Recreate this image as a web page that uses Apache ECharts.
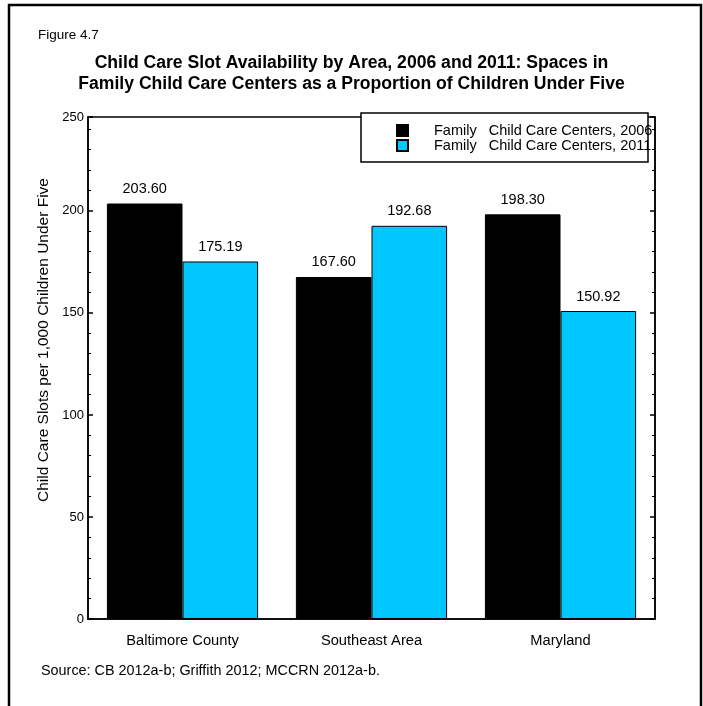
<!DOCTYPE html>
<html>
<head>
<meta charset="utf-8">
<script src="https://cdn.jsdelivr.net/npm/echarts@6/dist/echarts.min.js"></script>
<style>
html,body{margin:0;padding:0;background:#fff;}
#chart{width:703px;height:706px;}
</style>
</head>
<body>
<div id="chart"></div>
<script>
var categories = ['Baltimore County', 'Southeast Area', 'Maryland'];
var seriesNames = ['Family   Child Care Centers, 2006', 'Family   Child Care Centers, 2011'];
var values2006 = [203.60, 167.60, 198.30];
var values2011 = [175.19, 192.68, 150.92];
var yTickLabels = [0, 50, 100, 150, 200, 250];
var axisTop = 246;

var FONT = '"Liberation Sans", Arial, sans-serif';
var chart = echarts.init(document.getElementById('chart'));

function yLabel(v) {
  if (v >= axisTop) return String(yTickLabels[yTickLabels.length - 1]);
  return String(v);
}

var yCommon = {
  type: 'value', min: 0, max: axisTop, interval: 50,
  axisLine: {show: true, lineStyle: {color: '#000', width: 1.5}},
  axisTick: {show: true, inside: true, length: 5, lineStyle: {color: '#000', width: 1.5}},
  minorTick: {show: true, splitNumber: 5, length: 3, lineStyle: {color: '#000', width: 1}},
  splitLine: {show: false}
};

chart.setOption({
  animation: false,
  backgroundColor: '#fff',
  textStyle: {fontFamily: FONT},
  title: {
    text: 'Child Care Slot Availability by Area, 2006 and 2011: Spaces in\nFamily Child Care Centers as a Proportion of Children Under Five',
    left: 'center', top: 48,
    textStyle: {fontFamily: FONT, fontSize: 17.6, fontWeight: 'bold', color: '#000', lineHeight: 21}
  },
  graphic: [
    {type: 'rect', shape: {x: 9, y: 5, width: 692, height: 720}, style: {fill: 'none', stroke: '#000', lineWidth: 2.5}, silent: true},
    {type: 'text', left: 38, top: 28, style: {text: 'Figure 4.7', font: '13.5px ' + FONT, fill: '#000'}},
    {type: 'text', left: 41, top: 664, style: {text: 'Source: CB 2012a-b; Griffith 2012; MCCRN 2012a-b.', font: '14.4px ' + FONT, fill: '#000'}},
    {type: 'rect', z: 5, shape: {x: 361, y: 113, width: 287, height: 49}, style: {fill: '#fff', stroke: '#000', lineWidth: 1.5}, silent: true}
  ],
  legend: {
    z: 10,
    orient: 'vertical', left: 396, top: 123, padding: 0,
    itemWidth: 11, itemHeight: 11, itemGap: 0,
    icon: 'rect',
    textStyle: {fontFamily: FONT, fontSize: 14.5, lineHeight: 15, color: '#000', padding: [0, 0, 0, 21]},
    data: seriesNames
  },
  grid: {left: 88, right: 48, top: 117, bottom: 87, show: true, borderColor: '#000', borderWidth: 1.5, backgroundColor: 'transparent'},
  xAxis: {
    type: 'category', data: categories,
    axisLine: {show: true, lineStyle: {color: '#000', width: 1.5}},
    axisTick: {show: false},
    axisLabel: {color: '#000', fontSize: 14.7, margin: 14, fontFamily: FONT}
  },
  yAxis: [
    Object.assign({}, yCommon, {
      position: 'left',
      name: 'Child Care Slots per 1,000 Children Under Five',
      nameLocation: 'middle', nameGap: 35,
      nameTextStyle: {color: '#000', fontSize: 15.5, fontFamily: FONT, padding: [0, 0, 0, 56]},
      axisLabel: {color: '#000', fontSize: 13, margin: 4, fontFamily: FONT, formatter: yLabel, showMaxLabel: true}
    }),
    Object.assign({}, yCommon, {
      position: 'right',
      axisLabel: {show: false}
    })
  ],
  series: [
    {
      name: seriesNames[0], type: 'bar', data: values2006,
      barGap: '0%', barCategoryGap: '20%',
      itemStyle: {color: '#000', borderColor: '#000', borderWidth: 1},
      label: {show: true, position: 'top', distance: 7, color: '#000', fontSize: 14.5, fontFamily: FONT,
        formatter: function (p) { return p.value.toFixed(2); }}
    },
    {
      name: seriesNames[1], type: 'bar', data: values2011,
      barGap: '0%', barCategoryGap: '20%',
      itemStyle: {color: '#00C8FF', borderColor: '#000', borderWidth: 1},
      label: {show: true, position: 'top', distance: 7, color: '#000', fontSize: 14.5, fontFamily: FONT,
        formatter: function (p) { return p.value.toFixed(2); }}
    }
  ]
});
</script>
</body>
</html>
